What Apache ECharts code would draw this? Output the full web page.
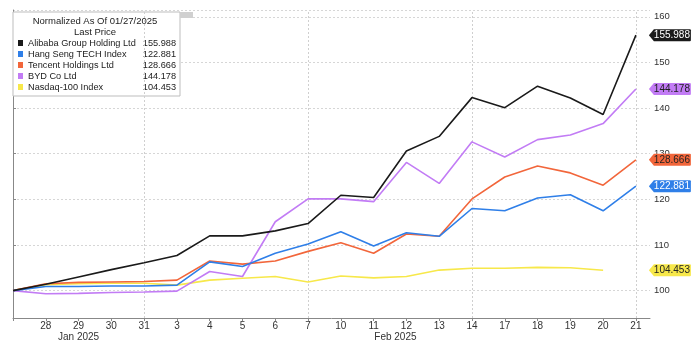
<!DOCTYPE html>
<html><head><meta charset="utf-8">
<script src="https://cdn.jsdelivr.net/npm/echarts@6/dist/echarts.min.js"></script>
<style>html,body{margin:0;padding:0;background:#fff}#c{width:697px;height:341px}</style>
</head><body><div id="c"></div>
<script>
const dates = ['27','28','29','30','31','3','4','5','6','7','10','11','12','13','14','17','18','19','20','21'];
const monthLabels = ['','','Jan 2025','','','','','','','','','','Feb 2025','','','','','','',''];
const weekEnds = ['31','7','14','21'];
const alibaba = [100,101.4,103.0,104.6,106.1,107.7,112.0,112.0,113.1,114.7,120.9,120.4,130.6,133.8,142.3,140.1,144.8,142.2,138.6,155.988];
const hstech  = [100,100.9,100.9,101.0,101.0,101.2,106.3,105.3,108.2,110.2,112.9,109.8,112.7,111.9,118.0,117.5,120.3,121.0,117.5,122.881];
const tencent = [100,101.5,101.8,101.9,102.0,102.3,106.5,105.8,106.5,108.6,110.5,108.2,112.4,111.9,120.1,124.9,127.3,125.8,123.1,128.666];
const byd     = [100,99.3,99.4,99.6,99.7,99.9,104.2,103.1,115.1,120.1,120.1,119.5,128.1,123.5,132.6,129.3,133.1,134.1,136.6,144.178];
const nasdaq  = [100,101.3,101.5,101.6,101.6,101.2,102.3,102.7,103.1,101.9,103.2,102.8,103.1,104.5,104.9,104.9,105.1,105.0,104.453];
const seriesNames = ['Alibaba Group Holding Ltd','Hang Seng TECH Index','Tencent Holdings Ltd','BYD Co Ltd','Nasdaq-100 Index'];
const seriesData = [alibaba, hstech, tencent, byd, nasdaq];
const titleLines = ['Normalized As Of 01/27/2025', 'Last Price'];

const colors = ['#1a1a1a','#2f7fe8','#f2663b','#c27cf5','#f7e84a'];
const tagText = ['#fff','#fff','#222','#222','#222'];
const lastIdx = dates.length - 1;

const chart = echarts.init(document.getElementById('c'));
const fontFam = '"Liberation Sans", Arial, sans-serif';

const series = seriesData.map((arr, k) => {
  const last = arr[arr.length - 1];
  const s = {
    name: seriesNames[k], type: 'line', data: arr.map((v, i) => [i, v]),
    showSymbol: false, symbol: 'none', color: colors[k],
    lineStyle: {width: 1.6, color: colors[k]}, z: 10 - k,
    markPoint: {
      symbol: 'path://M0,6 L5,0 L41,0 Q42,0 42,1 L42,11 Q42,12 41,12 L5,12 Z',
      symbolKeepAspect: false, symbolSize: [42, 12], symbolOffset: [34, 0],
      itemStyle: {color: colors[k]},
      label: {show: true, position: 'inside', offset: [2, 0], color: tagText[k], fontSize: 10, fontFamily: fontFam,
        formatter: p => p.value.toFixed(3)},
      data: [{coord: [lastIdx, last], value: last}],
      z: 20
    }
  };
  if (k === 0) {
    s.markLine = {
      silent: true, symbol: ['none','none'], label: {show: false},
      lineStyle: {color: '#cfcfcf', type: [2, 2], width: 1},
      data: weekEnds.map(d => ({xAxis: dates.indexOf(d)}))
    };
  }
  return s;
});

chart.setOption({
  animation: false,
  grid: {left: 13, right: 47, top: 10, bottom: 23, outerBoundsMode: 'none', containLabel: false},
  xAxis: {
    type: 'value', min: 0, max: 19.43, interval: 1,
    axisLine: {show: true, lineStyle: {color: '#888'}},
    axisTick: {show: true, length: 3, lineStyle: {color: '#888'}},
    splitLine: {show: false},
    axisLabel: {
      color: '#333', fontSize: 10, fontFamily: fontFam, margin: 3, showMaxLabel: false, lineHeight: 10.5,
      formatter: v => {
        if (!Number.isInteger(v) || v <= 0 || v > lastIdx) return '';
        let s = dates[v];
        if (monthLabels[v]) s += '\n{' + (v > 5 ? 'f' : 'm') + '|' + monthLabels[v] + '}';
        return s;
      },
      rich: {
        m: {color: '#333', fontSize: 10, fontFamily: fontFam, lineHeight: 10.5},
        f: {color: '#333', fontSize: 10, fontFamily: fontFam, lineHeight: 10.5, padding: [0, 22, 0, 0]}
      }
    }
  },
  yAxis: {
    type: 'value', position: 'right', min: 94, max: 161.5, splitNumber: 7,
    axisLine: {show: true, lineStyle: {color: '#888'}},
    axisTick: {show: true, length: 3, lineStyle: {color: '#888'}},
    splitLine: {show: true, lineStyle: {color: '#d6d6d6', type: [2, 2]}},
    axisLabel: {color: '#333', fontSize: 9.5, fontFamily: fontFam, margin: 4, showMinLabel: false, showMaxLabel: false}
  },
  legend: {
    left: 13, top: 12, orient: 'vertical', icon: 'rect', itemWidth: 5, itemHeight: 6, itemGap: 1, itemTextGap: 2,
    padding: [26, 4, 4, 5], backgroundColor: '#fff', borderColor: '#bdbdbd', borderWidth: 1,
    data: seriesNames,
    formatter: name => {
      const arr = seriesData[seriesNames.indexOf(name)];
      return '{n|' + name + '}{v|' + arr[arr.length - 1].toFixed(3) + '}';
    },
    textStyle: {
      fontFamily: fontFam, fontSize: 9, color: '#222', lineHeight: 10,
      rich: {
        n: {width: 113, fontFamily: fontFam, fontSize: 9.2, color: '#222', lineHeight: 10},
        v: {width: 35, align: 'right', fontFamily: fontFam, fontSize: 9.2, color: '#222', lineHeight: 10}
      }
    }
  },
  graphic: [
    {type: 'text', x: 95, y: 21, z: 100, style: {text: titleLines[0], textAlign: 'center', textVerticalAlign: 'middle', fontSize: 9.5, fontFamily: fontFam, fill: '#222'}},
    {type: 'text', x: 95, y: 32, z: 100, style: {text: titleLines[1], textAlign: 'center', textVerticalAlign: 'middle', fontSize: 9.5, fontFamily: fontFam, fill: '#222'}},
    {type: 'rect', x: 180, y: 12, z: 100, shape: {width: 13, height: 6}, style: {fill: '#d0d0d0'}}
  ],
  series: series
});
</script></body></html>
